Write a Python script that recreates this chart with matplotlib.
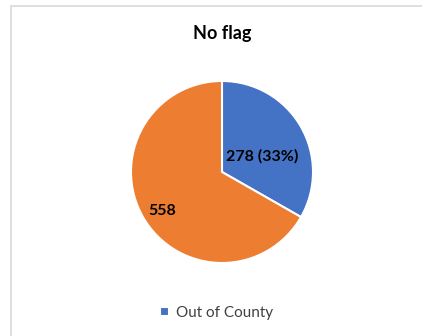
import matplotlib
matplotlib.use("Agg")
import matplotlib.pyplot as plt
from matplotlib.patches import Rectangle

categories = ["Out of County", "Other"]
values = [278, 558]
colors = ["#4472C4", "#ED7D31"]
title = "No flag"

plt.rcParams['font.family'] = ['Lato', 'DejaVu Sans']

fig = plt.figure(figsize=(4.22, 3.36), dpi=100)
fig.patch.set_facecolor("white")

# chart frame (extends beyond image on right/bottom)
fig.add_artist(Rectangle((10.5/422, -0.1), 1.2, (336-6)/336 + 0.1,
                         transform=fig.transFigure, fill=False,
                         edgecolor="#D9D9D9", linewidth=1.2))

ax = fig.add_axes([0.3104, 0.2173, 0.4313, 0.5417])
total = sum(values)
wedges, _ = ax.pie(values, colors=colors, startangle=90, counterclock=False,
                   wedgeprops=dict(edgecolor="white", linewidth=1.5))
ax.set_xlim(-1, 1)
ax.set_ylim(-1, 1)
ax.set_aspect("equal")

# data labels
ax.text(0.44, 0.17, f"{values[0]} ({values[0]/total:.0%})", ha="center", va="center",
        fontsize=11.5, fontweight="bold", color="black")
ax.text(-0.66, -0.43, f"{values[1]}", ha="center", va="center",
        fontsize=11.5, fontweight="bold", color="black")

fig.text(0.526, 1 - 33/336, title, ha="center", va="center",
         fontsize=13, fontweight="bold", color="black")

leg = fig.legend([wedges[0]], [categories[0]], loc="center",
                 bbox_to_anchor=(0.513, 1 - 313/336), frameon=False,
                 fontsize=11, handlelength=0.6, handleheight=0.6,
                 handletextpad=0.45, labelcolor="#404040")

fig.savefig("out.png", dpi=100)
